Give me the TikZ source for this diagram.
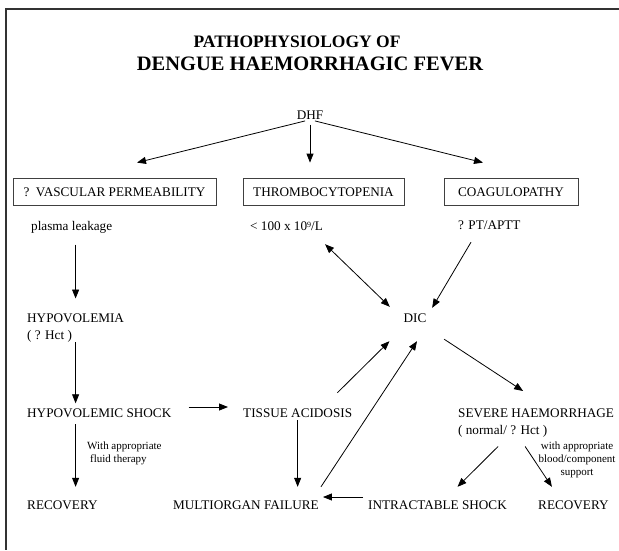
\documentclass[tikz,border=0pt]{standalone}
\usepackage{fontspec}
\setmainfont{Liberation Serif}
\usetikzlibrary{arrows.meta}

\begin{document}
\begin{tikzpicture}[
    x=1pt, y=-1pt,
    ttl/.style={font=\bfseries\fontsize{17.5}{20}\selectfont, inner sep=0pt},
    bigttl/.style={font=\bfseries\fontsize{20.5}{24}\selectfont, inner sep=0pt},
    txt/.style={font=\fontsize{13.2}{17}\selectfont, inner sep=0pt,
                text height=9pt, text depth=0pt},
    lbl/.style={txt, anchor=west},
    twoline/.style={font=\fontsize{13.2}{17}\selectfont, inner sep=0pt,
                    align=left, anchor=north west},
    box/.style={txt, draw=black!75, line width=0.8pt, minimum height=27pt},
    note/.style={font=\fontsize{11}{13}\selectfont, inner sep=0pt},
    arr/.style={-{Triangle[length=9pt,width=7pt]}, line width=0.8pt},
    darr/.style={{Triangle[length=9pt,width=7pt]}-{Triangle[length=9pt,width=7pt]},
                 line width=0.8pt},
    frame/.style={line width=1.6pt, black!80},
  ]
  \useasboundingbox (0,0) rectangle (619,550);

  % frame (top and left only)
  \draw[frame] (619,9) -- (6,9) -- (6,550);

  % ===== Title =====
  \node[ttl] (t1) at (297,42) {PATHOPHYSIOLOGY OF};
  \node[bigttl] (t2) at (310,64) {DENGUE HAEMORRHAGIC FEVER};

  % ===== Top level =====
  \node[txt] (dhf) at (310,115) {DHF};

  \node[box, minimum width=203pt] (vasc) at (114.5,191.5) {?\enspace VASCULAR PERMEABILITY};
  \node[box, minimum width=161pt] (thr) at (323.5,191.5) {THROMBOCYTOPENIA};
  \node[box, minimum width=134pt] (coag) at (511,191.5) {COAGULOPATHY};

  \draw[arr, shorten <=5pt] (dhf.south) -- ([xshift=22.5pt,yshift=15pt]vasc.north);
  \draw[arr, shorten <=5pt] (dhf.south) -- ([xshift=-13.5pt,yshift=15pt]thr.north);
  \draw[arr, shorten <=5pt] (dhf.south) -- ([xshift=-28pt,yshift=15pt]coag.north);

  % ===== Findings =====
  \node[lbl] (plasma) at (31,226) {plasma leakage};
  \node[lbl] (plat) at (250,226) {< 100 x 10\raisebox{3pt}{\fontsize{8}{8}\selectfont 9}/L};
  \node[lbl] (ptt) at (458,225) {? PT/APTT};

  % left column
  \node[twoline] (hypov) at (27,313.5) {HYPOVOLEMIA\\( ? Hct )};
  \node[lbl] (shock) at (27,413) {HYPOVOLEMIC SHOCK};
  \node[lbl] (rec1) at (27,505) {RECOVERY};
  \node[note, anchor=north west, align=left] (fluid) at (87,442)
    {With appropriate\\\hspace{3pt}fluid therapy};

  \draw[arr, shorten <=14pt, shorten >=15pt] (hypov.north |- plasma.south) -- (hypov.north);
  \draw[arr, shorten >=5pt] (hypov.south) -- (hypov.south |- shock.north);
  \draw[arr, shorten <=6.5pt, shorten >=13.5pt] (shock.south -| hypov.south) -- (rec1.north -| hypov.south);

  % middle
  \node[txt] (dic) at (415,318) {DIC};
  \node[lbl] (acid) at (243,413) {TISSUE ACIDOSIS};
  \node[lbl] (mof) at (173,505) {MULTIORGAN FAILURE};
  \node[lbl] (intr) at (368,505) {INTRACTABLE SHOCK};

  \draw[arr, shorten <=17pt, shorten >=15pt] ([yshift=6pt]shock.east) -- ([yshift=6pt]acid.west);
  \draw[arr, shorten <=2.5pt, shorten >=13.5pt] (acid.south) -- (acid.south |- mof.north);
  \draw[arr] ([xshift=-15pt,yshift=15.5pt]acid.north east) -- ([xshift=-14pt,yshift=-18.5pt]dic.south west);
  \draw[arr] ([xshift=2pt,yshift=13.5pt]mof.north east) -- ([xshift=2pt,yshift=-18.5pt]dic.south);
  \draw[darr] ([xshift=2pt,yshift=-13.5pt]plat.south east) -- ([xshift=-13.6pt,yshift=6.5pt]dic.north west);
  \draw[arr] ([xshift=13pt,yshift=-12.5pt]ptt.south west) -- ([xshift=5.6pt,yshift=5.5pt]dic.north east);
  \draw[arr] ([xshift=-5pt,yshift=8pt]intr.west) -- ([xshift=4pt,yshift=8pt]mof.east);

  % right column
  \node[twoline] (sev) at (458,408.5) {SEVERE HAEMORRHAGE\\( normal/ ? Hct )};
  \node[lbl] (rec2) at (538,505) {RECOVERY};
  \node[note, anchor=north, align=center] (blood) at (577,442)
    {with appropriate\\blood/component\\support};

  \draw[arr] ([xshift=17.6pt,yshift=-16.5pt]dic.south east) -- ([xshift=-13pt,yshift=17.5pt]sev.north);
  \draw[arr] ([xshift=-38pt,yshift=-9pt]sev.south) -- ([xshift=20pt,yshift=13.5pt]intr.north);
  \draw[arr] ([xshift=-11pt,yshift=-9pt]sev.south) -- ([xshift=-21.5pt,yshift=13.5pt]rec2.north);

\end{tikzpicture}
\end{document}
